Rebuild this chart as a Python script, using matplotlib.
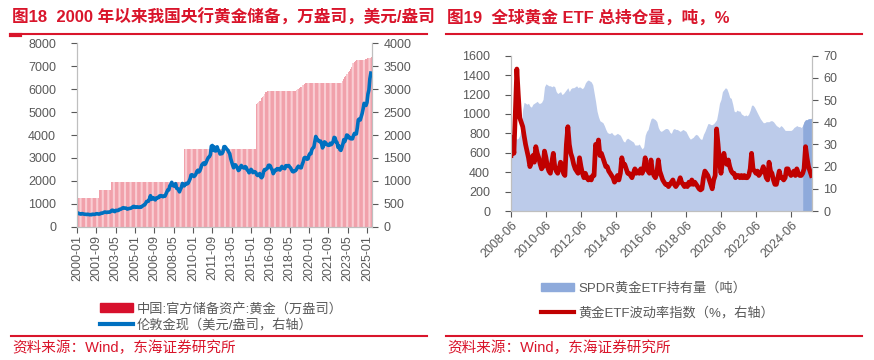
import matplotlib
matplotlib.use('Agg')
import matplotlib.pyplot as plt
from matplotlib.lines import Line2D
from matplotlib.patches import Patch
import numpy as np
import pandas as pd

plt.rcParams['font.family'] = ['Liberation Sans', 'Noto Sans CJK SC']
plt.rcParams['axes.unicode_minus'] = False
plt.rcParams['hatch.linewidth'] = 1.5

RED = '#d9152b'
GREY = '#595959'
SPINE = '#bfbfbf'

# ---- Fig 18: China central bank gold reserves (10k oz) and London gold (USD/oz)
months18 = pd.period_range('2000-01', '2025-05', freq='M').strftime('%Y-%m')

# reserve level after each change, constant in between
reserve_changes = {
    '2000-01': 1267, '2001-12': 1608, '2002-12': 1929, '2009-04': 3389,
    '2015-06': 5332, '2015-07': 5393, '2015-08': 5439, '2015-09': 5478,
    '2015-10': 5493, '2015-11': 5605, '2015-12': 5666, '2016-01': 5719,
    '2016-02': 5779, '2016-03': 5828, '2016-04': 5862, '2016-05': 5889,
    '2016-06': 5904, '2016-07': 5907, '2016-08': 5917, '2016-09': 5924,
    '2018-12': 5956, '2019-01': 5994, '2019-02': 6026, '2019-03': 6062,
    '2019-04': 6092, '2019-05': 6111, '2019-06': 6161, '2019-07': 6194,
    '2019-08': 6226, '2019-09': 6264, '2022-11': 6367, '2022-12': 6464,
    '2023-01': 6512, '2023-02': 6592, '2023-03': 6650, '2023-04': 6676,
    '2023-05': 6727, '2023-06': 6795, '2023-07': 6869, '2023-08': 6962,
    '2023-09': 7046, '2023-10': 7120, '2023-11': 7158, '2023-12': 7187,
    '2024-01': 7219, '2024-02': 7258, '2024-03': 7274, '2024-04': 7280,
    '2024-11': 7296, '2024-12': 7329, '2025-01': 7345, '2025-02': 7361,
    '2025-03': 7370, '2025-04': 7377, '2025-05': 7383,
}

gold_price = [
    284, 300, 286, 280, 275, 286, 282, 275, 273, 270, 266, 272,
    266, 262, 263, 261, 272, 270, 268, 273, 283, 283, 276, 276,
    282, 296, 294, 302, 314, 321, 314, 310, 319, 317, 319, 333,
    357, 359, 340, 328, 355, 356, 351, 360, 379, 379, 390, 407,
    414, 405, 406, 404, 384, 392, 398, 400, 406, 420, 439, 442,
    424, 423, 434, 429, 422, 430, 424, 437, 456, 470, 476, 510,
    549, 555, 557, 610, 676, 596, 633, 632, 598, 585, 627, 629,
    631, 665, 655, 679, 667, 655, 665, 665, 712, 754, 806, 803,
    889, 922, 968, 909, 888, 889, 939, 839, 829, 806, 760, 816,
    858, 943, 924, 890, 928, 946, 934, 949, 996, 1043, 1127, 1134,
    1118, 1095, 1113, 1148, 1205, 1232, 1193, 1215, 1271, 1343, 1370, 1391,
    1356, 1372, 1424, 1474, 1512, 1529, 1572, 1756, 1772, 1665, 1739, 1652,
    1656, 1742, 1673, 1650, 1585, 1596, 1594, 1630, 1744, 1747, 1721, 1688,
    1671, 1627, 1593, 1487, 1414, 1343, 1286, 1347, 1349, 1316, 1275, 1225,
    1244, 1300, 1336, 1299, 1287, 1279, 1311, 1296, 1239, 1222, 1176, 1202,
    1251, 1227, 1179, 1198, 1199, 1181, 1131, 1117, 1125, 1159, 1086, 1068,
    1097, 1200, 1246, 1242, 1260, 1276, 1337, 1341, 1326, 1267, 1238, 1157,
    1192, 1234, 1231, 1266, 1246, 1260, 1236, 1283, 1315, 1280, 1283, 1265,
    1331, 1331, 1325, 1335, 1303, 1282, 1238, 1202, 1198, 1215, 1221, 1250,
    1291, 1320, 1300, 1286, 1284, 1359, 1413, 1500, 1511, 1495, 1471, 1480,
    1560, 1597, 1591, 1683, 1715, 1732, 1846, 1968, 1922, 1901, 1866, 1858,
    1867, 1808, 1718, 1760, 1850, 1834, 1807, 1785, 1775, 1777, 1821, 1790,
    1817, 1856, 1948, 1937, 1849, 1837, 1732, 1764, 1681, 1664, 1726, 1798,
    1898, 1855, 1913, 1999, 1992, 1942, 1951, 1918, 1916, 1916, 1985, 2034,
    2033, 2023, 2160, 2331, 2350, 2326, 2399, 2470, 2571, 2690, 2651, 2645,
    2709, 2894, 2984, 3230, 3350,
]

reserves = pd.Series(reserve_changes).reindex(months18).ffill().values

# ---- Fig 19: SPDR gold holdings (t) and gold ETF volatility index (%)
months19 = pd.date_range('2008-06-01', '2025-08-01', freq='MS')

spdr_tons = [
    690, 700, 680, 760, 740, 750, 780,
    890, 1050, 1120, 1110, 1100, 1110, 1080, 1070, 1100, 1110, 1120, 1130,
    1110, 1110, 1120, 1150, 1280, 1310, 1300, 1290, 1290, 1280, 1290, 1280,
    1230, 1210, 1220, 1230, 1200, 1210, 1230, 1250, 1270, 1230, 1260, 1270,
    1270, 1280, 1290, 1270, 1280, 1270, 1260, 1280, 1320, 1340, 1350, 1340,
    1330, 1300, 1220, 1130, 1030, 970, 930, 920, 910, 880, 840, 810,
    800, 800, 810, 790, 780, 790, 800, 790, 780, 750, 720, 710,
    740, 750, 740, 730, 720, 710, 680, 680, 680, 690, 660, 640,
    660, 780, 820, 840, 900, 950, 960, 950, 940, 920, 860, 830,
    820, 830, 840, 850, 850, 840, 810, 800, 840, 850, 840, 840,
    830, 820, 830, 840, 830, 820, 790, 760, 740, 750, 760, 780,
    790, 780, 760, 740, 740, 790, 820, 860, 900, 900, 890, 890,
    900, 920, 940, 1020, 1110, 1150, 1230, 1250, 1270, 1260, 1220, 1170,
    1160, 1100, 1030, 1020, 1040, 1030, 1030, 1000, 990, 980, 990, 980,
    1000, 1040, 1090, 1090, 1070, 1040, 1010, 980, 950, 930, 910, 910,
    920, 920, 920, 930, 930, 920, 900, 880, 870, 860, 880, 870,
    850, 830, 830, 830, 830, 830, 840, 860, 870, 880, 870, 870,
    860, 880, 920, 940, 940, 950, 950, 955,
]

gvz = [
    25, 33, 26, 45, 64, 52, 42,
    40, 38, 34, 30, 27, 24, 20, 22, 25, 22, 29, 26,
    24, 21, 19, 20, 27, 24, 20, 18, 17, 22, 26, 20,
    18, 17, 19, 22, 21, 17, 16, 30, 38, 30, 26, 24,
    21, 19, 18, 17, 24, 20, 17, 15, 17, 15, 14, 15,
    14, 16, 16, 30, 28, 32, 25, 26, 24, 22, 20, 20,
    18, 17, 16, 15, 13, 14, 16, 14, 17, 24, 21, 21,
    19, 17, 17, 16, 15, 17, 19, 17, 18, 17, 19, 17,
    19, 24, 19, 18, 17, 23, 18, 16, 15, 17, 23, 18,
    16, 14, 13, 12, 12, 11, 12, 13, 14, 12, 11, 12,
    13, 15, 13, 12, 11, 12, 11, 13, 12, 14, 12, 13,
    12, 11, 10, 9.5, 10, 15, 18, 17, 16, 14, 12, 10,
    14, 16, 37, 30, 22, 17, 22, 26, 22, 21, 23, 20,
    18, 17, 17, 15, 16, 16, 15, 16, 15, 16, 15, 15,
    16, 19, 26, 19, 18, 17, 18, 16, 17, 18, 20, 18,
    15, 14, 22, 18, 17, 14, 12, 12, 15, 18, 15, 15,
    14, 15, 19, 19, 17, 16, 17, 18, 16, 19, 17, 16,
    16, 17, 19, 29, 24, 20, 18, 16,
]
latest_from = '2025-02-01'   # last stretch is drawn in the darker blue

fig = plt.figure(figsize=(8.74, 3.6), dpi=100)
W, H = 874.0, 360.0


def fx(px):
    return px / W


def fy(py):
    return 1 - py / H


def style_axes(ax, axr):
    for a in (ax, axr):
        a.spines['top'].set_visible(False)
        for s in ('left', 'right', 'bottom'):
            a.spines[s].set_color(SPINE)
    ax.tick_params(axis='y', colors=GREY, labelsize=9, length=4, pad=11)
    axr.tick_params(axis='y', colors=GREY, labelsize=9, length=4, pad=4)
    ax.tick_params(axis='x', colors=GREY, labelsize=9, length=4, pad=2)
    for a in (ax, axr):
        for t in a.get_yticklabels() + a.get_xticklabels():
            t.set_color(GREY)


# left chart
ax1 = fig.add_axes([fx(77), fy(226.7), fx(372.3 - 77), (226.7 - 43.3) / H])
ax1r = ax1.twinx()
idx = np.arange(len(months18))
# thin monthly bars merge into a striped pink block
ax1.bar(idx, reserves, width=1.0, align='edge', color='#f1a1ab',
        edgecolor='#f9cdd3', linewidth=0, hatch='|||', antialiased=False)
ax1r.plot(idx, gold_price, color='#0070c0', lw=2.6, solid_joinstyle='round')
ax1.set_ylim(0, 8000)
ax1.set_yticks(range(0, 8001, 1000))
ax1r.set_ylim(0, 4000)
ax1r.set_yticks(range(0, 4001, 500))
ax1.set_xlim(0, 305.5)
ax1.set_xticks(idx[::20])
ax1.set_xticklabels(months18[::20], rotation=90)
style_axes(ax1, ax1r)

# right chart
ax2 = fig.add_axes([fx(511), fy(211), fx(812.3 - 511), (211 - 55.7) / H])
ax2r = ax2.twinx()
spdr = pd.Series(spdr_tons, index=months19)
ax2.fill_between(months19, 0, spdr.values, color='#bccbea', linewidth=0)
tail = spdr[latest_from:]
ax2.fill_between(tail.index, 0, tail.values, color='#8eaadb', linewidth=0)
ax2r.plot(months19, gvz, color='#c00000', lw=3.4, solid_joinstyle='round')
ax2.set_ylim(0, 1600)
ax2.set_yticks(range(0, 1601, 200))
ax2r.set_ylim(0, 70)
ax2r.set_yticks(range(0, 71, 10))
ax2.set_xlim(pd.Timestamp('2008-06-01'), pd.Timestamp('2025-08-20'))
xt = [pd.Timestamp(f'{y}-06-01') for y in range(2008, 2025, 2)]
ax2.set_xticks(xt)
ax2.set_xticklabels([t.strftime('%Y-%m') for t in xt], rotation=45,
                    ha='right', rotation_mode='anchor')
style_axes(ax2, ax2r)

# titles, rules, legends, source
titles = ['图18  2000 年以来我国央行黄金储备，万盎司，美元/盎司',
          '图19  全球黄金 ETF 总持仓量，吨，%']
for x0, x1, title in [(11, 427, titles[0]), (446, 862, titles[1])]:
    fig.text(fx(x0 + 1), fy(17), title, fontsize=12, fontweight='bold',
             color=RED, va='center', ha='left')
    fig.add_artist(Line2D([fx(x0), fx(x1)], [fy(34)] * 2, color=RED, lw=1.5))
    fig.add_artist(Line2D([fx(x0), fx(x1)], [fy(336)] * 2, color=RED, lw=1.5))
    fig.text(fx(x0 + 1), fy(348), '资料来源：Wind，东海证券研究所', fontsize=10.5,
             color=RED, va='center', ha='left')
fig.add_artist(Line2D([fx(11), fx(20)], [fy(34.7)] * 2, color=RED, lw=3))

leg1 = fig.legend(
    handles=[Patch(color='#d7102c'), Line2D([], [], color='#0070c0', lw=3)],
    labels=['中国:官方储备资产:黄金（万盎司）', '伦敦金现（美元/盎司，右轴）'],
    loc='upper left', bbox_to_anchor=(fx(100), fy(302.5)), frameon=False,
    fontsize=9.5, borderpad=0, borderaxespad=0, handlelength=2.5,
    handleheight=0.6, handletextpad=0.3, labelspacing=0.25)
leg2 = fig.legend(
    handles=[Patch(color='#8eaadb'), Line2D([], [], color='#c00000', lw=3)],
    labels=['SPDR黄金ETF持有量（吨）', '黄金ETF波动率指数（%，右轴）'],
    loc='upper left', bbox_to_anchor=(fx(541), fy(282)), frameon=False,
    fontsize=9.5, borderpad=0, borderaxespad=0, handlelength=2.5,
    handleheight=0.6, handletextpad=0.3, labelspacing=0.9)
for lg in (leg1, leg2):
    for t in lg.get_texts():
        t.set_color(GREY)

fig.savefig('out.png', dpi=100)
